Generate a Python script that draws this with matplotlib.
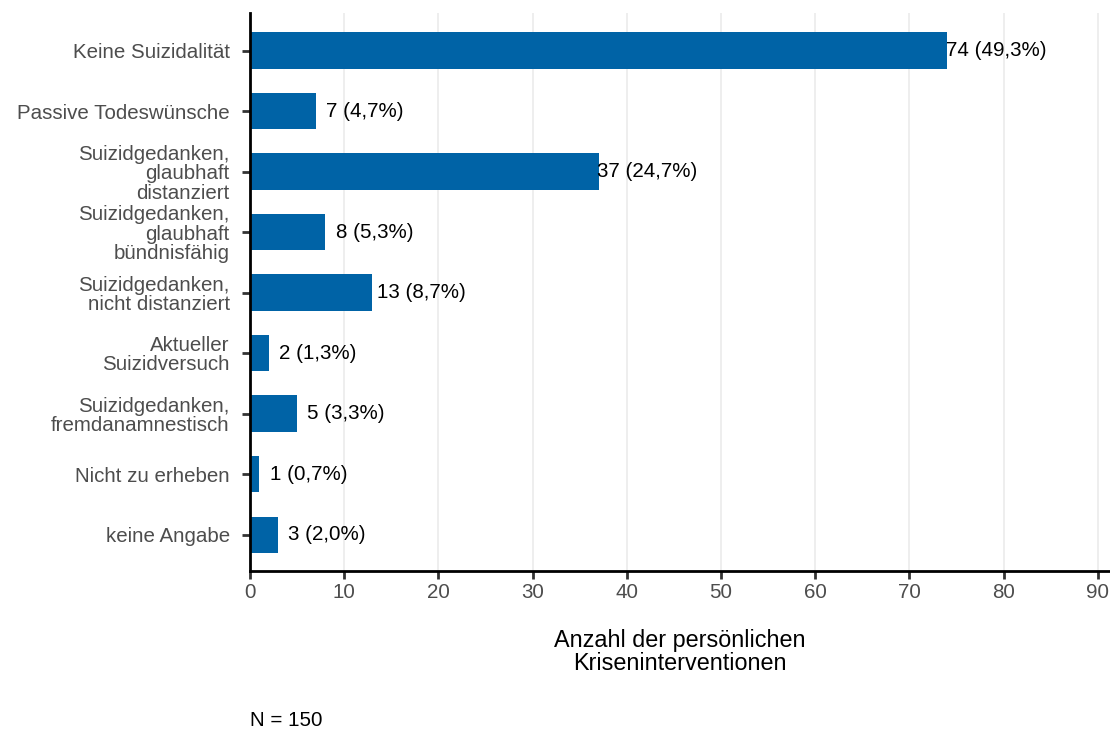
import matplotlib
matplotlib.use("Agg")
import matplotlib.pyplot as plt

plt.rcParams['font.family'] = ['Liberation Sans', 'DejaVu Sans']

# Data
categories = [
    "Keine Suizidalität",
    "Passive Todeswünsche",
    "Suizidgedanken,\nglaubhaft\ndistanziert",
    "Suizidgedanken,\nglaubhaft\nbündnisfähig",
    "Suizidgedanken,\nnicht distanziert",
    "Aktueller\nSuizidversuch",
    "Suizidgedanken,\nfremdanamnestisch",
    "Nicht zu erheben",
    "keine Angabe",
]
counts = [74, 7, 37, 8, 13, 2, 5, 1, 3]
n_total = 150
x_ticks = [0, 10, 20, 30, 40, 50, 60, 70, 80, 90]

BAR_COLOR = "#0063A6"
TICK_GRAY = "#4D4D4D"


def pct_label(v, total):
    # "74 (49,3%)" with German decimal comma
    return f"{v} ({v / total * 100:.1f}%)".replace(".", ",")


def plot_counts():
    fig = plt.figure(figsize=(11.1, 7.31), dpi=100)
    ax = fig.add_axes([250 / 1110, 1 - 571 / 731, 1 - 250 / 1110, (571 - 13) / 731])

    ypos = list(range(len(categories)))
    ax.barh(ypos, counts, height=0.6, color=BAR_COLOR, zorder=2)

    # value labels centred a bit to the right of each bar end
    for y, v in zip(ypos, counts):
        ax.text(v + 5.2, y, pct_label(v, n_total), ha="center", va="center",
                fontsize=14.8, color="black", zorder=3)

    ax.set_ylim(8.6, -0.62)
    ax.set_xlim(0, 91.3)
    ax.set_yticks(ypos)
    ax.set_yticklabels(categories, linespacing=1.02)
    ax.set_xticks(x_ticks)

    ax.tick_params(axis="y", length=6, width=2, color="#333333", pad=8.5,
                   labelsize=14.8, labelcolor=TICK_GRAY)
    ax.tick_params(axis="x", length=6, width=2, color="#333333", pad=3,
                   labelsize=14.8, labelcolor=TICK_GRAY)

    ax.grid(True, axis="x", color="#EBEBEB", linewidth=1.2, zorder=0)
    ax.set_axisbelow(True)
    for side in ("top", "right"):
        ax.spines[side].set_visible(False)
    for side in ("left", "bottom"):
        ax.spines[side].set_linewidth(2)
        ax.spines[side].set_color("black")

    ax.set_xlabel("Anzahl der persönlichen\nKriseninterventionen", fontsize=16.8,
                  linespacing=1.03, labelpad=19)

    fig.text(250 / 1110, 1 - 720 / 731, f"N = {n_total}", ha="left", va="center",
             fontsize=14.8, color="black")

    fig.savefig("out.png", dpi=100)


if __name__ == "__main__":
    plot_counts()
